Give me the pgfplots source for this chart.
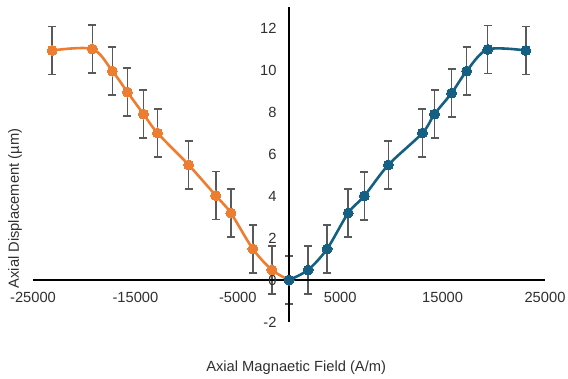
\documentclass[border=0pt]{standalone}
\usepackage{fontspec}
\setmainfont{Liberation Sans}
\usepackage{pgfplots}
\pgfplotsset{compat=1.18}
\definecolor{exorange}{HTML}{ED7D31}
\definecolor{exblue}{HTML}{156082}
\definecolor{errgray}{HTML}{595959}
\definecolor{txtgray}{HTML}{303030}

\pgfplotstableread{
x y e
-23130 10.93 1.15
-19200 11.00 1.15
-17250 9.95 1.15
-15780 8.95 1.15
-14210 7.90 1.15
-12840 7.00 1.15
-9800 5.48 1.15
-7150 4.02 1.15
-5680 3.19 1.15
-3530 1.48 1.15
-1670 0.48 1.15
0 0.00 1.15
}\leftdata

\pgfplotstableread{
x y e
0 0.00 1.15
1860 0.48 1.15
3720 1.48 1.15
5780 3.19 1.15
7350 4.00 1.15
9700 5.48 1.15
13030 7.00 1.15
14210 7.90 1.15
15880 8.90 1.15
17350 9.95 1.15
19400 10.98 1.15
23130 10.93 1.15
}\rightdata

\pgfplotsset{
  common/.style={
    at={(0,0)}, anchor=south west,
    scale only axis, width=512bp, height=315bp,
    xmin=-25000, xmax=25000, ymin=-2, ymax=13,
    clip=false,
  },
  ebar/.style={draw=none, mark=none,
    error bars/.cd, y dir=both, y explicit,
    error bar style={errgray, line width=1.5bp},
    error mark options={rotate=90, mark size=4bp, errgray, line width=1.5bp}},
}

\begin{document}
\begin{tikzpicture}
\useasboundingbox (-33bp,-57bp) rectangle (535bp,322bp);
% error bars underneath
\begin{axis}[common, hide axis]
\addplot[ebar] table[x=x, y=y, y error=e] {\leftdata};
\addplot[ebar] table[x=x, y=y, y error=e] {\rightdata};
\end{axis}
% main axis, lines and markers
\begin{axis}[
  common,
  axis lines=middle,
  axis line style={black, line width=1.6bp, -},
  hide obscured x ticks=false,
  hide obscured y ticks=false,
  scaled x ticks=false, scaled y ticks=false,
  major tick length=0pt,
  xtick={-25000,-15000,-5000,5000,15000,25000},
  xticklabels={-25000,-15000,-5000,5000,15000,25000},
  ytick={-2,0,2,4,6,8,10,12},
  yticklabels={-2,0,2,4,6,8,10,12},
  ticklabel style={font=\fontsize{14.7bp}{17bp}\selectfont, text=txtgray},
  xticklabel style={anchor=north, yshift=-9bp},
  yticklabel style={anchor=east, xshift=-9bp},
  xlabel={Axial Magnaetic Field (A/m)},
  ylabel={Axial Displacement (\textmu m)},
  label style={font=\fontsize{14.7bp}{17bp}\selectfont, text=txtgray},
  xlabel style={at={(axis description cs:0.514,-0.146)}, anchor=center},
  ylabel style={at={(axis description cs:-0.035,0.36)}, anchor=center, rotate=90},
]
\addplot[exorange, line width=2.6bp, smooth, tension=0.5, mark=*, mark size=5bp,
  mark options={fill=exorange, draw=exorange, line width=0pt}]
  table[x=x, y=y] {\leftdata};
\addplot[exblue, line width=2.6bp, smooth, tension=0.5, mark=*, mark size=5bp,
  mark options={fill=exblue, draw=exblue, line width=0pt}]
  table[x=x, y=y] {\rightdata};
\end{axis}
\end{tikzpicture}
\end{document}
